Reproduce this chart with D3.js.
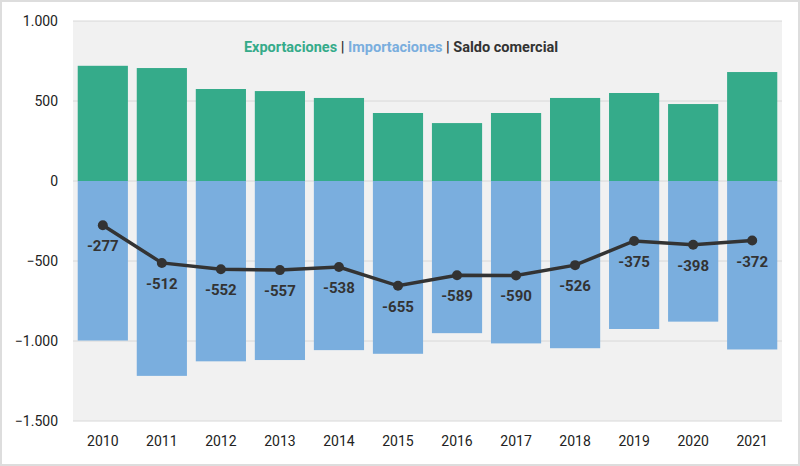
<!DOCTYPE html>
<html><head><meta charset="utf-8">
<script src="https://cdn.jsdelivr.net/npm/d3@7"></script>
<style>body{margin:0;background:#fff;font-family:Roboto,sans-serif}</style>
</head><body><svg id="chart" width="800" height="466"></svg>
<script>
const years = ["2010","2011","2012","2013","2014","2015","2016","2017","2018","2019","2020","2021"]
const exportaciones = [720,706,575,562,519,425,362,425,519,550,481,681]
const importaciones = [-997,-1218,-1127,-1119,-1057,-1080,-951,-1015,-1045,-925,-879,-1053]
const saldo = [-277,-512,-552,-557,-538,-655,-589,-590,-526,-375,-398,-372]
const yTicks = [1000,500,0,-500,-1000,-1500]

const svg = d3.select("#chart")
const fmt = d => d3.format(",")(d).replace(/,/g,".")
svg.append("rect").attr("x",1).attr("y",1).attr("width",798).attr("height",464)
   .attr("fill","#fff").attr("stroke","#ddd").attr("stroke-width",2)

const x = d3.scaleBand().domain(years).range([73,782]).paddingInner(0.15).paddingOuter(0.08)
const y = d3.scaleLinear().domain([-1500,1000]).range([421,21])

svg.append("rect").attr("x",73).attr("y",y(1000)).attr("width",709).attr("height",y(-1500)-y(1000)).attr("fill","#f1f1f1")

svg.selectAll(".grid").data(yTicks).enter().append("line")
   .attr("x1",73).attr("x2",782).attr("y1",d=>y(d)).attr("y2",d=>y(d))
   .attr("stroke","#d8d8d8")

svg.selectAll(".ylab").data(yTicks).enter().append("text")
   .attr("x",58).attr("y",d=>y(d)+5).attr("text-anchor","end")
   .attr("font-size",14).attr("fill","#222").text(fmt)

svg.selectAll(".exp").data(exportaciones).enter().append("rect")
   .attr("x",(d,i)=>x(years[i])).attr("width",x.bandwidth())
   .attr("y",d=>y(d)).attr("height",d=>y(0)-y(d)).attr("fill","#35ab8a")
svg.selectAll(".imp").data(importaciones).enter().append("rect")
   .attr("x",(d,i)=>x(years[i])).attr("width",x.bandwidth())
   .attr("y",y(0)).attr("height",d=>y(d)-y(0)).attr("fill","#7aaede")

const cx = i => x(years[i])+x.bandwidth()/2
svg.append("path").datum(saldo)
   .attr("d",d3.line().x((d,i)=>cx(i)).y(d=>y(d)))
   .attr("fill","none").attr("stroke","#333").attr("stroke-width",3.5)
svg.selectAll(".pt").data(saldo).enter().append("circle")
   .attr("cx",(d,i)=>cx(i)).attr("cy",d=>y(d)).attr("r",5).attr("fill","#333")
svg.selectAll(".sl").data(saldo).enter().append("text")
   .attr("x",(d,i)=>cx(i)).attr("y",d=>y(d)+26).attr("text-anchor","middle")
   .attr("font-size",15).attr("font-weight","bold").attr("fill","#333").text(d=>d)

svg.selectAll(".xl").data(years).enter().append("text")
   .attr("x",(d,i)=>cx(i)).attr("y",446).attr("text-anchor","middle")
   .attr("font-size",14).attr("fill","#222").text(d=>d)

const lg = svg.append("text").attr("x",401).attr("y",52).attr("text-anchor","middle")
   .attr("font-size",14.5).attr("font-weight","bold")
lg.append("tspan").attr("fill","#35ab8a").text("Exportaciones")
lg.append("tspan").attr("fill","#333").text(" | ")
lg.append("tspan").attr("fill","#7aaede").text("Importaciones")
lg.append("tspan").attr("fill","#333").text(" | Saldo comercial")
</script></body></html>
